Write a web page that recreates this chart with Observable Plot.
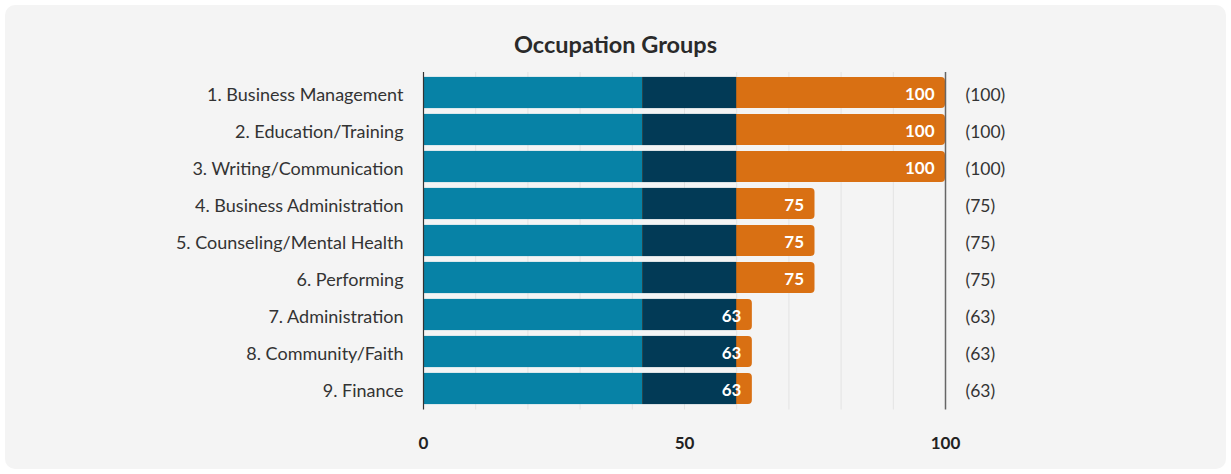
<!DOCTYPE html>
<html>
<head>
<meta charset="utf-8">
<script src="https://cdn.jsdelivr.net/npm/d3@7"></script>
<script src="https://cdn.jsdelivr.net/npm/@observablehq/plot@0.6"></script>
<style>
  html, body { margin: 0; padding: 0; background: #ffffff; }
  body { width: 1231px; height: 474px; position: relative; overflow: hidden; font-family: Lato, "Open Sans", sans-serif; }
  #card { position: absolute; left: 5px; top: 5px; width: 1221px; height: 464px; background: #f4f4f4; border-radius: 10px; }
  #title { position: absolute; left: 5px; width: 1221px; top: 30px; text-align: center; font-size: 23.5px; font-weight: bold; color: #2a2a2a; line-height: 28px; }
  #chart { position: absolute; left: 0; top: 60px; }
</style>
</head>
<body>
<div id="card"></div>
<div id="title">Occupation Groups</div>
<div id="chart"></div>
<script>
const categories = [
  "1. Business Management",
  "2. Education/Training",
  "3. Writing/Communication",
  "4. Business Administration",
  "5. Counseling/Mental Health",
  "6. Performing",
  "7. Administration",
  "8. Community/Faith",
  "9. Finance"
];
const tealValues = [42, 42, 42, 42, 42, 42, 42, 42, 42];
const navyValues = [18, 18, 18, 18, 18, 18, 18, 18, 18];
const totalScores = [100, 100, 100, 75, 75, 75, 63, 63, 63];
const xTicks = [0, 50, 100];
const gridTicks = [10, 20, 30, 40, 50, 60, 70, 80, 90];

const rows = categories.map((c, i) => ({
  cat: c,
  teal: tealValues[i],
  navy: navyValues[i],
  total: totalScores[i]
}));

const fontFamily = "Lato, 'Open Sans', sans-serif";

const plot = Plot.plot({
  width: 1231,
  height: 410,
  marginLeft: 423,
  marginRight: 286,
  marginTop: 12,
  marginBottom: 60.5,
  style: { background: "transparent", fontFamily: fontFamily, overflow: "visible" },
  x: { domain: [0, 100], label: null },
  y: { domain: categories, padding: 0, label: null },
  marks: [
    Plot.ruleX(gridTicks, { stroke: "#e3e3e3", strokeWidth: 1 }),
    Plot.barX(rows, { y: "cat", x1: 0, x2: "total", fill: "#d97013", rx: 4, insetTop: 2.9, insetBottom: 2.9 }),
    Plot.barX(rows, { y: "cat", x1: 0, x2: "teal", fill: "#0782a6", insetTop: 2.9, insetBottom: 2.9 }),
    Plot.barX(rows, { y: "cat", x1: "teal", x2: d => d.teal + d.navy, fill: "#023a56", insetTop: 2.9, insetBottom: 2.9 }),
    Plot.ruleX([0], { stroke: "#333333", strokeWidth: 1.2 }),
    Plot.ruleX([100], { stroke: "#666666", strokeWidth: 1.5 }),
    Plot.text(rows, { y: "cat", x: "total", text: d => String(d.total), dx: -11, dy: 2, textAnchor: "end", fill: "white", fontWeight: "bold", fontSize: 17 }),
    Plot.text(rows, { y: "cat", frameAnchor: "right", text: d => `(${d.total})`, dx: 20, dy: 2, textAnchor: "start", fill: "#333333", fontSize: 17.5 }),
    Plot.axisY({ tickSize: 0, tickPadding: 20, dy: 2.5, fontSize: 18, color: "#333333", label: null }),
    Plot.axisX(xTicks, { tickSize: 0, tickPadding: 27, fontSize: 17, fontWeight: "bold", color: "#222222", label: null })
  ]
});
document.getElementById("chart").appendChild(plot);
</script>
</body>
</html>
